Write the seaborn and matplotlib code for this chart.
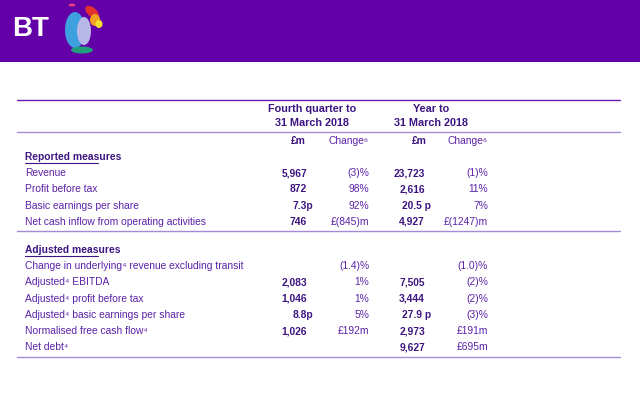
import matplotlib.pyplot as plt
import seaborn as sns
from matplotlib.patches import Rectangle, Ellipse

# table data
reported_labels = ['Revenue', 'Profit before tax', 'Basic earnings per share',
                   'Net cash inflow from operating activities']
reported_q4 = ['5,967', '872', '7.3p', '746']
reported_q4_chg = ['(3)%', '98%', '92%', '£(845)m']
reported_yr = ['23,723', '2,616', '20.5 p', '4,927']
reported_yr_chg = ['(1)%', '11%', '7%', '£(1247)m']

adjusted_labels = ['Change in underlying⁴ revenue excluding transit', 'Adjusted⁴ EBITDA',
                   'Adjusted⁴ profit before tax', 'Adjusted⁴ basic earnings per share',
                   'Normalised free cash flow⁴', 'Net debt⁴']
adjusted_q4 = ['', '2,083', '1,046', '8.8p', '1,026', '']
adjusted_q4_chg = ['(1.4)%', '1%', '1%', '5%', '£192m', '']
adjusted_yr = ['', '7,505', '3,444', '27.9 p', '2,973', '9,627']
adjusted_yr_chg = ['(1.0)%', '(2)%', '(2)%', '(3)%', '£191m', '£695m']

sns.set_theme(style='white')
plt.rcParams['font.family'] = ['Liberation Sans Narrow', 'Liberation Sans', 'DejaVu Sans']

LABEL = '#5b22a8'
VALUE = '#3d1580'
RULE = '#6a1bb0'
RULE2 = '#a58bd6'
FS = 7.4

fig = plt.figure(figsize=(6.4, 4.11), dpi=100)
ax = fig.add_axes([0, 0, 1, 1])
ax.set_xlim(0, 640)
ax.set_ylim(411, 0)
ax.axis('off')

# header band and logo
ax.add_patch(Rectangle((0, 0), 640, 62, color='#6300a8', lw=0))
ax.text(12, 29, 'BT', color='white', fontsize=20, fontweight='bold',
        va='center', ha='left', family=['Liberation Sans', 'DejaVu Sans'])
ax.add_patch(Ellipse((75, 30), 20, 36, color='#3fa0e0', lw=0))
ax.add_patch(Ellipse((84, 31), 14, 28, color='#b8b8e8', lw=0))
ax.add_patch(Ellipse((82, 50), 22, 7, color='#1fa07a', lw=0))
ax.add_patch(Ellipse((92, 12), 16, 9, angle=40, color='#e03030', lw=0))
ax.add_patch(Ellipse((95, 20), 10, 12, color='#f0a020', lw=0))
ax.add_patch(Ellipse((99, 24), 7, 8, color='#f5e030', lw=0))
ax.add_patch(Ellipse((72, 5), 7, 3, color='#e04080', lw=0))

# rules
ax.plot([17, 620], [100, 100], color=RULE, lw=1)
ax.plot([17, 620], [132, 132], color=RULE2, lw=1)
ax.plot([17, 620], [231, 231], color=RULE2, lw=1)
ax.plot([17, 620], [357, 357], color=RULE2, lw=1)

# column headers
for cx, lines in [(312, ['Fourth quarter to', '31 March 2018']), (431, ['Year to', '31 March 2018'])]:
    ax.text(cx, 109, lines[0], ha='center', va='center', color=VALUE, fontsize=FS + 0.4, fontweight='bold')
    ax.text(cx, 123, lines[1], ha='center', va='center', color=VALUE, fontsize=FS + 0.4, fontweight='bold')
for cx in (298, 419):
    ax.text(cx, 141, '£m', ha='center', va='center', color=VALUE, fontsize=FS, fontweight='bold')
for cx in (369, 488):
    ax.text(cx, 141, 'Change⁶', ha='right', va='center', color=LABEL, fontsize=FS)


def draw_block(y0, title, labels, q4, q4c, yr, yrc):
    ax.text(25, y0, title, ha='left', va='center', color=VALUE, fontsize=FS, fontweight='bold')
    ax.plot([25, 25 + 4.3 * len(title)], [y0 + 6, y0 + 6], color=VALUE, lw=0.8)
    for i, lab in enumerate(labels):
        y = y0 + 16.2 * (i + 1)
        ax.text(25, y, lab, ha='left', va='center', color=LABEL, fontsize=FS)
        for x, v, bold in [(307, q4[i], True), (369, q4c[i], False),
                           (425, yr[i], True), (488, yrc[i], False)]:
            xr = x + 6 if v.endswith('p') else x
            ax.text(xr, y, v, ha='right', va='center', color=VALUE if bold else LABEL,
                    fontsize=FS, fontweight='bold' if bold else 'normal')


draw_block(157, 'Reported measures', reported_labels, reported_q4, reported_q4_chg,
           reported_yr, reported_yr_chg)
draw_block(250, 'Adjusted measures', adjusted_labels, adjusted_q4, adjusted_q4_chg,
           adjusted_yr, adjusted_yr_chg)

fig.savefig('out.png', dpi=100)
